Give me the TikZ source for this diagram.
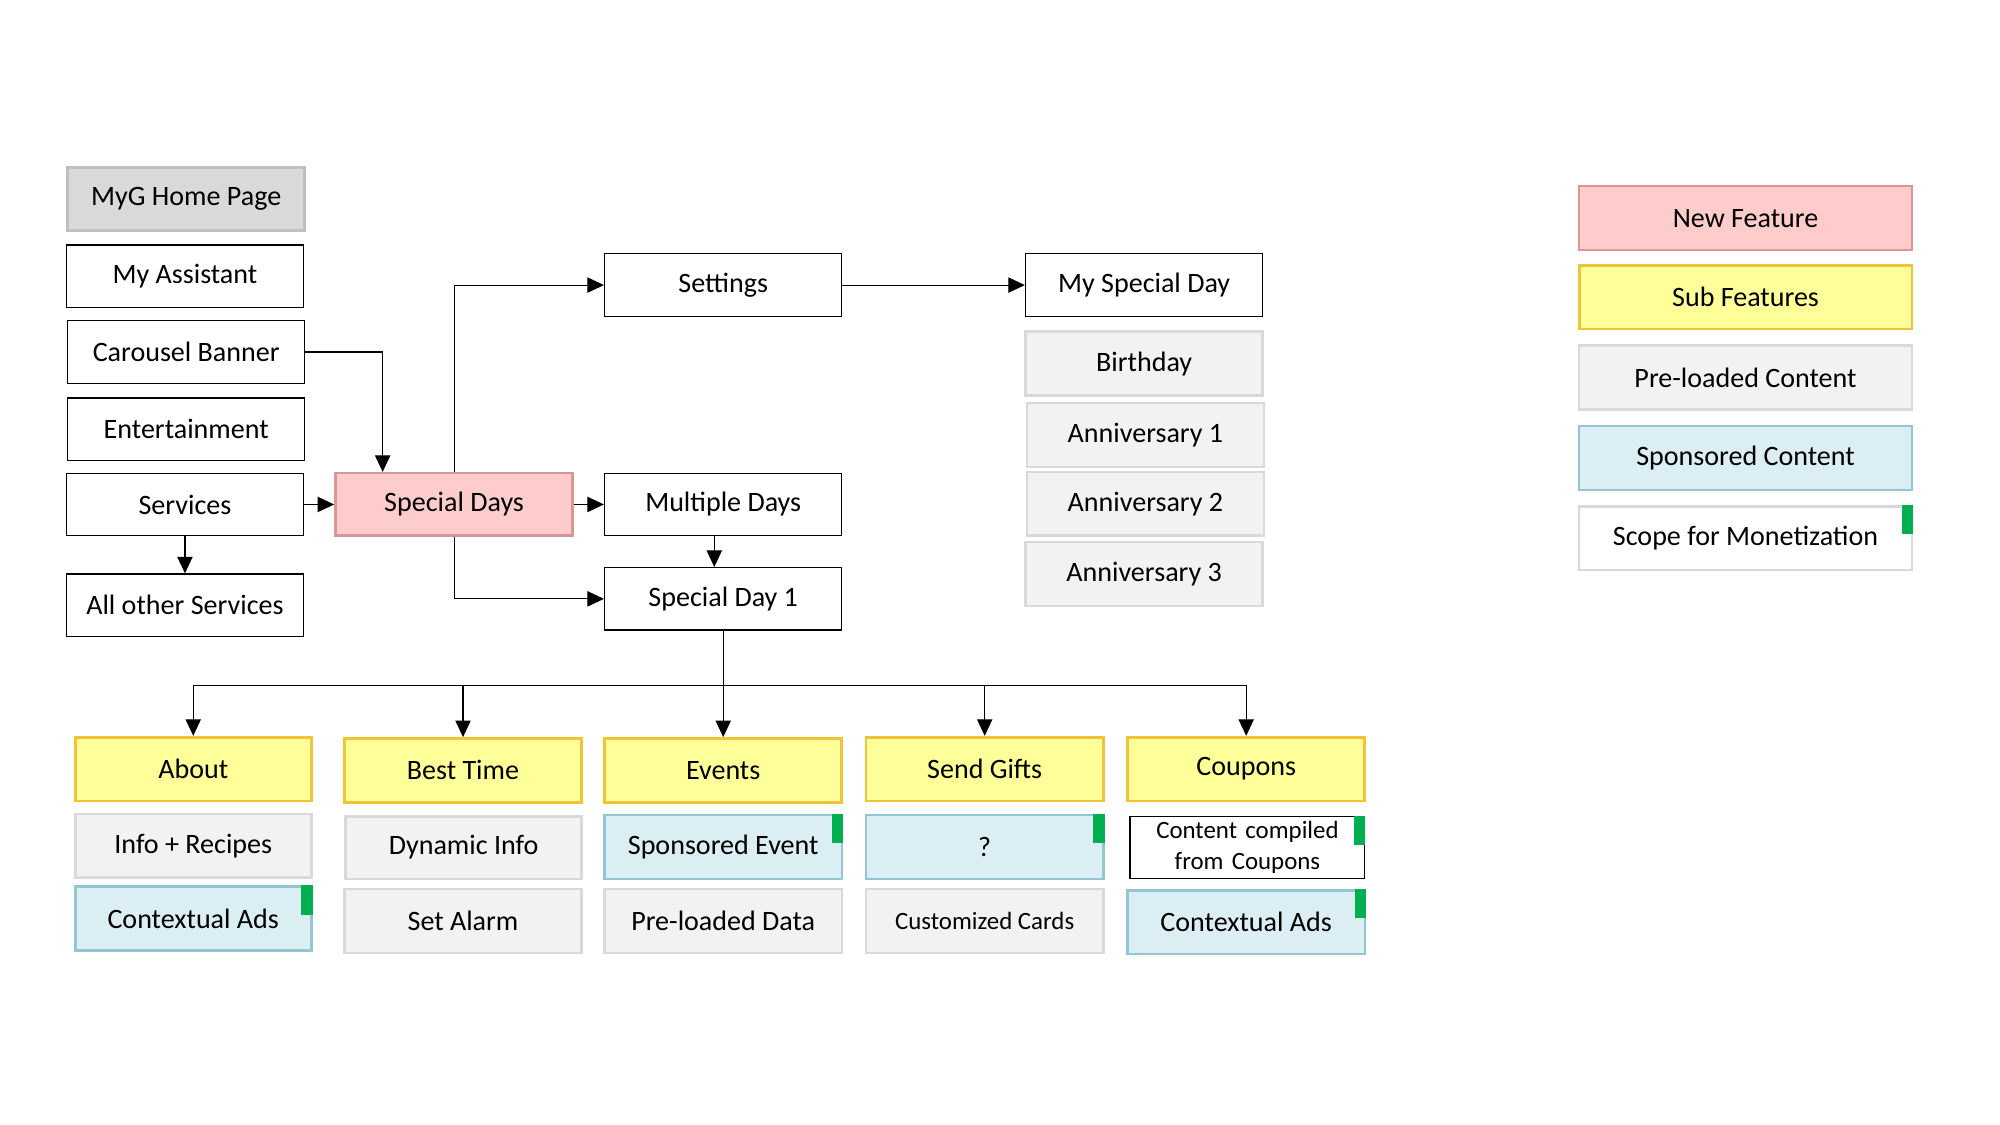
\documentclass[tikz,border=0pt]{standalone}
\usepackage{fontspec}
\setmainfont{Carlito}
\usetikzlibrary{arrows.meta,calc}
\definecolor{pinkfill}{HTML}{FFCCCC}
\definecolor{pinkline}{HTML}{D99694}
\definecolor{yelfill}{HTML}{FFFF99}
\definecolor{yelline}{HTML}{EEC53A}
\definecolor{grayfill}{HTML}{F2F2F2}
\definecolor{grayline}{HTML}{D9D9D9}
\definecolor{bluefill}{HTML}{DBEEF4}
\definecolor{blueline}{HTML}{93C5D3}
\definecolor{homefill}{HTML}{D9D9D9}
\definecolor{homeline}{HTML}{BFBFBF}
\definecolor{mgreen}{HTML}{00B050}
\tikzset{
  base/.style={rectangle, inner sep=0pt, minimum width=186pt, minimum height=49pt,
    font=\fontsize{22}{24}\selectfont, align=center},
  wbox/.style={base, draw=black, fill=white, line width=1pt},
  homebox/.style={base, draw=homeline, fill=homefill, line width=2.2pt},
  newbox/.style={base, draw=pinkline, fill=pinkfill, line width=2pt},
  subbox/.style={base, draw=yelline, fill=yelfill, line width=2.2pt},
  prebox/.style={base, draw=grayline, fill=grayfill, line width=2pt},
  spbox/.style={base, draw=blueline, fill=bluefill, line width=2pt},
  scbox/.style={base, draw=grayline, fill=white, line width=2pt},
  small/.style={font=\fontsize{19.5}{24}\selectfont},
  arr/.style={draw=black, line width=0.9pt, -{Triangle[length=13pt,width=12pt]}},
  conn/.style={draw=black, line width=0.9pt},
}
\newcommand{\gmark}[1]{\fill[mgreen] ([xshift=-9pt]#1.north east) rectangle ([yshift=-23pt]#1.north east);}
\begin{document}
\begin{tikzpicture}[x=1pt,y=-1pt]
\useasboundingbox (0,0) rectangle (1568,882);
% left column
\node[homebox] (home) at (146,156) {MyG Home Page};
\node[wbox] (assist) at (145,216.5) {My Assistant};
\node[wbox] (carousel) at (146,276) {Carousel Banner};
\node[wbox] (ent) at (146,336.5) {Entertainment};
\node[wbox] (services) at (145,395.5) {Services};
\node[wbox] (allother) at (145,474.5) {All other Services};
% middle
\node[newbox] (sd) at (356,395.5) {Special Days};
\node[wbox] (settings) at (567,223.5) {Settings};
\node[wbox] (multi) at (567,395.5) {Multiple Days};
\node[wbox] (sd1) at (567,469.5) {Special Day 1};
% right column
\node[wbox] (myday) at (897,223.5) {My Special Day};
\node[prebox, minimum height=50pt] (bday) at (897,285) {Birthday};
\node[prebox, minimum height=50pt] (an1) at (898,341) {Anniversary 1};
\node[prebox, minimum height=50pt] (an2) at (898,395) {Anniversary 2};
\node[prebox, minimum height=50pt] (an3) at (897,450) {Anniversary 3};
% bottom
\node[subbox, minimum width=185pt, minimum height=50pt] (about) at (151.5,603) {About};
\node[subbox, minimum height=50pt] (best) at (363,604) {Best Time};
\node[subbox, minimum height=50pt] (events) at (567,604) {Events};
\node[subbox, minimum height=50pt] (gifts) at (772,603) {Send Gifts};
\node[subbox, minimum height=50pt] (coupons) at (977,603) {Coupons};
\node[prebox, minimum width=185pt, minimum height=50pt] (info) at (151.5,663) {Info + Recipes};
\node[prebox, minimum width=185pt] (dyn) at (363.5,664.5) {Dynamic Info};
\node[spbox, minimum height=50pt] (spev) at (567,664) {Sponsored Event};
\node[spbox, minimum height=50pt] (q) at (772,664) {?};
\node[wbox, minimum width=184pt, small, text width=180pt] (compiled) at (978,664.5) {Content compiled\\from Coupons};
\node[spbox, minimum width=185pt, minimum height=50pt] (ads1) at (151.5,720) {Contextual Ads};
\node[prebox, minimum height=50pt] (alarm) at (363,722) {Set Alarm};
\node[prebox, minimum height=50pt] (pdata) at (567,722) {Pre-loaded Data};
\node[prebox, minimum height=50pt, small] (cards) at (772,722) {Customized Cards};
\node[spbox, minimum height=50pt] (ads2) at (977,723) {Contextual Ads};
% legend
\node[newbox, minimum width=261pt, minimum height=50pt] (lnew) at (1368.5,171) {New Feature};
\node[subbox, minimum width=261pt, minimum height=50pt] (lsub) at (1368.5,233) {Sub Features};
\node[prebox, minimum width=261pt, minimum height=50pt] (lpre) at (1368.5,296) {Pre-loaded Content};
\node[spbox, minimum width=261pt, minimum height=50pt] (lsp) at (1368.5,359) {Sponsored Content};
\node[scbox, minimum width=261pt, minimum height=50pt] (lsc) at (1368.5,422) {Scope for Monetization};
% green markers
\gmark{lsc}
\gmark{ads1}
\gmark{spev}
\gmark{q}
\gmark{compiled}
\gmark{ads2}
% connectors
\draw[arr] (carousel.east) -| ([xshift=-56pt]sd.north);
\draw[arr] (services) -- (sd);
\draw[arr] (services) -- (allother);
\draw[arr] (sd.north) |- (settings.west);
\draw[arr] (sd.south) |- (sd1.west);
\draw[arr] (sd) -- (multi);
\draw[arr] (settings) -- (myday);
\draw[arr] ([xshift=-7pt]multi.south) -- ([xshift=-7pt]sd1.north);
\coordinate (bus) at ($(sd1.south)+(0,43)$);
\draw[conn] (sd1.south) -- (bus);
\draw[arr] (bus) -| (about.north);
\draw[arr] (bus) -| (best.north);
\draw[arr] (bus) -- (events.north);
\draw[arr] (bus) -| (gifts.north);
\draw[arr] (bus) -| (coupons.north);
\end{tikzpicture}
\end{document}
